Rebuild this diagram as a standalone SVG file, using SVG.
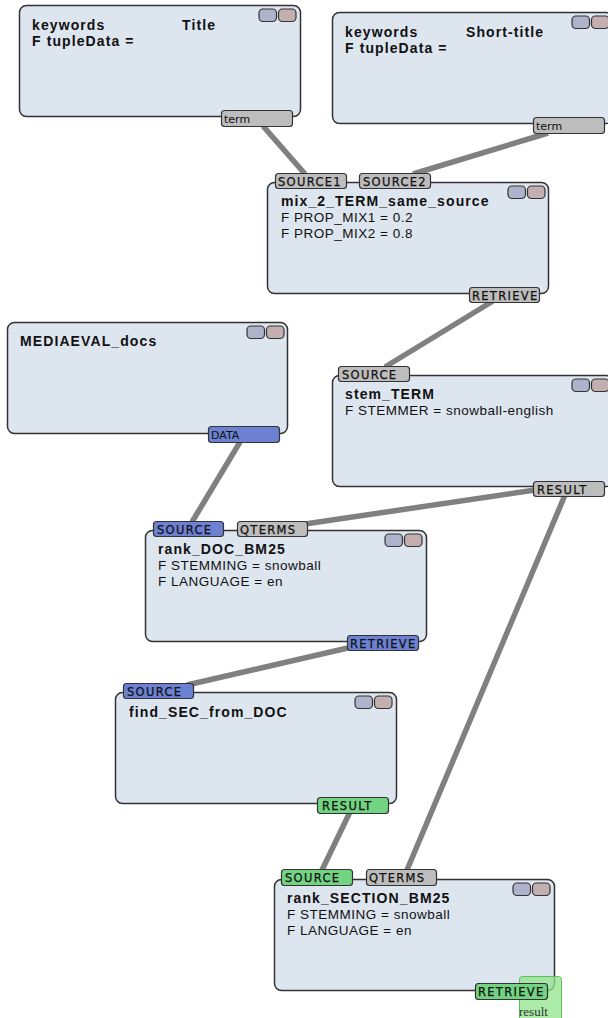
<svg xmlns="http://www.w3.org/2000/svg" width="608" height="1018" viewBox="0 0 608 1018">
<style>
.box{fill:#dde5ef;stroke:#333;stroke-width:1.5}
.b1{fill:#aeb3cb;stroke:#333;stroke-width:1.2}
.b2{fill:#c4afb0;stroke:#333;stroke-width:1.2}
.pg{fill:#bdbdbd;stroke:#333;stroke-width:1.2}
.pb{fill:#6c81d2;stroke:#333;stroke-width:1.2}
.pn{fill:#72d483;stroke:#333;stroke-width:1.2}
.pl{font-family:"DejaVu Sans",sans-serif;font-size:11.5px;letter-spacing:1.3px;fill:#111;stroke:#111;stroke-width:0.25}
.pl2{font-family:"DejaVu Sans",sans-serif;font-size:11px;fill:#111}
.t{font-family:"Liberation Sans",Arial,sans-serif;font-size:14px;font-weight:bold;letter-spacing:1.1px;fill:#111}
.f{font-family:"Liberation Sans",Arial,sans-serif;font-size:13.5px;letter-spacing:0.5px;fill:#111}
.c{stroke:#808080;stroke-width:5.5;fill:none}
</style>
<g id="connectors">
<line class="c" x1="263" y1="126" x2="305" y2="174"/>
<line class="c" x1="548" y1="133" x2="413" y2="174"/>
<line class="c" x1="493" y1="301" x2="385" y2="367"/>
<line class="c" x1="240" y1="442" x2="192" y2="522"/>
<line class="c" x1="535" y1="490" x2="305" y2="524"/>
<line class="c" x1="565" y1="495" x2="407" y2="870"/>
<line class="c" x1="352" y1="647" x2="187" y2="685"/>
<line class="c" x1="350" y1="812" x2="322" y2="870"/>
</g>
<g id="node-title">
<rect class="box" x="19.5" y="5.5" width="281" height="111" rx="7"/>
<rect class="b1" x="259" y="9" width="17.5" height="12.5" rx="4"/>
<rect class="b2" x="278.5" y="9" width="17.5" height="12.5" rx="4"/>
<text class="t" x="32" y="30">keywords</text>
<text class="t" x="182" y="30">Title</text>
<text class="t" x="32" y="46">F tupleData =</text>
<rect class="pg" x="221.5" y="110.5" width="71" height="16" rx="3"/>
<text class="pl2" x="224" y="122.5">term</text>
</g>
<g id="node-short-title">
<rect class="box" x="332.5" y="12.5" width="281" height="111" rx="7"/>
<rect class="b1" x="572" y="16" width="17.5" height="12.5" rx="4"/>
<rect class="b2" x="591.5" y="16" width="17.5" height="12.5" rx="4"/>
<text class="t" x="345" y="37">keywords</text>
<text class="t" x="466" y="37">Short-title</text>
<text class="t" x="345" y="53">F tupleData =</text>
<rect class="pg" x="533.5" y="117.5" width="71" height="16" rx="3"/>
<text class="pl2" x="536" y="129.5">term</text>
</g>
<g id="node-mix">
<rect class="box" x="267.5" y="182.5" width="281" height="111" rx="7"/>
<rect class="b1" x="508" y="186" width="17.5" height="12.5" rx="4"/>
<rect class="b2" x="527.5" y="186" width="17.5" height="12.5" rx="4"/>
<text class="t" x="281" y="206">mix_2_TERM_same_source</text>
<text class="f" x="281" y="222">F PROP_MIX1 = 0.2</text>
<text class="f" x="281" y="238">F PROP_MIX2 = 0.8</text>
<rect class="pg" x="275.5" y="173.5" width="71" height="15" rx="3"/>
<text class="pl" x="278" y="185.5">SOURCE1</text>
<rect class="pg" x="359.5" y="173.5" width="71" height="15" rx="3"/>
<text class="pl" x="363" y="185.5">SOURCE2</text>
<rect class="pg" x="469.5" y="287.5" width="70" height="15" rx="3"/>
<text class="pl" x="472" y="299.5">RETRIEVE</text>
</g>
<g id="node-mediaeval">
<rect class="box" x="7.5" y="322.5" width="280" height="111" rx="7"/>
<rect class="b1" x="247" y="326" width="17.5" height="12.5" rx="4"/>
<rect class="b2" x="266.5" y="326" width="17.5" height="12.5" rx="4"/>
<text class="t" x="20" y="346">MEDIAEVAL_docs</text>
<rect class="pb" x="208.5" y="426.5" width="71" height="16" rx="3"/>
<text class="pl2" x="211" y="438.5">DATA</text>
</g>
<g id="node-stem">
<rect class="box" x="332.5" y="375.5" width="281" height="111" rx="7"/>
<rect class="b1" x="572" y="379" width="17.5" height="12.5" rx="4"/>
<rect class="b2" x="591.5" y="379" width="17.5" height="12.5" rx="4"/>
<text class="t" x="345" y="399">stem_TERM</text>
<text class="f" x="345" y="415">F STEMMER = snowball-english</text>
<rect class="pg" x="338.5" y="366.5" width="71" height="15" rx="3"/>
<text class="pl" x="342" y="378.5">SOURCE</text>
<rect class="pg" x="533.5" y="481.5" width="71" height="15" rx="3"/>
<text class="pl" x="537" y="493.5">RESULT</text>
</g>
<g id="node-rank-doc">
<rect class="box" x="145.5" y="530.5" width="281" height="111" rx="7"/>
<rect class="b1" x="385" y="534" width="17.5" height="12.5" rx="4"/>
<rect class="b2" x="404.5" y="534" width="17.5" height="12.5" rx="4"/>
<text class="t" x="158" y="554">rank_DOC_BM25</text>
<text class="f" x="158" y="570">F STEMMING = snowball</text>
<text class="f" x="158" y="586">F LANGUAGE = en</text>
<rect class="pb" x="153.5" y="521.5" width="70" height="15" rx="3"/>
<text class="pl" x="157" y="533.5">SOURCE</text>
<rect class="pg" x="237.5" y="521.5" width="70" height="15" rx="3"/>
<text class="pl" x="240" y="533.5">QTERMS</text>
<rect class="pb" x="347.5" y="635.5" width="71" height="15" rx="3"/>
<text class="pl" x="350" y="647.5">RETRIEVE</text>
</g>
<g id="node-find-sec">
<rect class="box" x="115.5" y="692.5" width="281" height="111" rx="7"/>
<rect class="b1" x="355" y="696" width="17.5" height="12.5" rx="4"/>
<rect class="b2" x="374.5" y="696" width="17.5" height="12.5" rx="4"/>
<text class="t" x="129" y="717">find_SEC_from_DOC</text>
<rect class="pb" x="123.5" y="683.5" width="70" height="15" rx="3"/>
<text class="pl" x="127" y="695.5">SOURCE</text>
<rect class="pn" x="317.5" y="797.5" width="71" height="16" rx="3"/>
<text class="pl" x="322" y="810">RESULT</text>
</g>
<g id="node-rank-section">
<rect class="box" x="274.5" y="879.5" width="280" height="111" rx="7"/>
<rect class="b1" x="513" y="883" width="17.5" height="12.5" rx="4"/>
<rect class="b2" x="532.5" y="883" width="17.5" height="12.5" rx="4"/>
<text class="t" x="287" y="903">rank_SECTION_BM25</text>
<text class="f" x="287" y="919">F STEMMING = snowball</text>
<text class="f" x="287" y="935">F LANGUAGE = en</text>
<rect class="pn" x="281.5" y="869.5" width="71" height="16" rx="3"/>
<text class="pl" x="285" y="882">SOURCE</text>
<rect class="pg" x="366.5" y="869.5" width="70" height="16" rx="3"/>
<text class="pl" x="369" y="882">QTERMS</text>
<rect x="519.5" y="976.5" width="42" height="50" rx="3" fill="#8fe38a" fill-opacity="0.75" stroke="#5cbf5c" stroke-width="1"/>
<text x="519" y="1016" font-family="'Liberation Serif',serif" font-size="13" fill="#333">result</text>
<rect class="pn" x="475.5" y="983.5" width="72" height="16" rx="3"/>
<text class="pl" x="478" y="996">RETRIEVE</text>
</g>
</svg>
